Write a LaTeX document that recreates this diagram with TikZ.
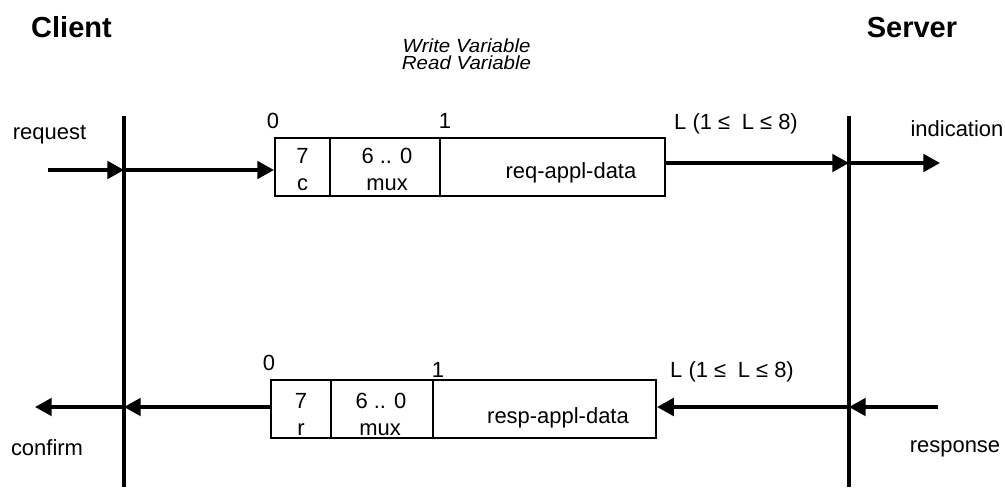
\documentclass[tikz,border=0pt]{standalone}
\usepackage{fontspec}
\setmainfont{Liberation Sans}
\newfontfamily\svcfont[FakeStretch=1.08]{Liberation Sans}
\usepackage{tikz}
\usetikzlibrary{arrows.meta}
\newcommand\pxu{0.02cm}

\begin{document}
\begin{tikzpicture}[x=0.02cm, y=-0.02cm,
  txt/.style={font=\fontsize{12.5}{15}\selectfont, inner sep=0pt, anchor=base},
  head/.style={font=\fontsize{16.5}{20}\selectfont\bfseries, inner sep=0pt, anchor=base},
  svc/.style={font=\svcfont\fontsize{10.8}{9.6}\selectfont\itshape, inner sep=0pt, align=center},
  cell/.style={draw, line width=1.2pt, inner sep=0pt, minimum height=58*\pxu},
  life/.style={line width=1.9pt},
  msg/.style={line width=1.9pt, -{Triangle[length=9.5pt,width=10pt]}}]
\useasboundingbox (0,0) rectangle (1005,488);

\node[head] (client) at (71.5,37) {Client};
\node[head] (server) at (912,37) {Server};
\node[svc] (services) at (466.5,54.5) {Write Variable\\Read Variable};

% lifelines
\coordinate (cltop) at (124,116);
\coordinate (clbot) at (124,487);
\coordinate (svtop) at (849,116);
\coordinate (svbot) at (849,487);
\draw[life] (cltop) -- (clbot);
\draw[life] (svtop) -- (svbot);

% request frame
\node[cell, minimum width=55*\pxu] (rqc) at (302.5,167) {};
\node[cell, minimum width=110*\pxu] (rqmux) at (385,167) {};
\node[cell, minimum width=225*\pxu] (rqdata) at (552.5,167) {};
\node[txt] (rqbit) at (302.5,163) {7};
\node[txt] (rqflag) at (302.5,190) {c};
\node[txt] (rqrange) at (387,163) {6 .. 0};
\node[txt] (rqmuxt) at (387,190) {mux};
\node[txt] (rqdatat) at (571,178) {req-appl-data};
\node[txt] (rqzero) at (273,128) {0};
\node[txt] (rqone) at (445,128) {1};
\node[txt] (rqlen) at (736,129) {L (1 ≤\hspace{0.25em} L ≤ 8)};

% response frame
\node[cell, minimum width=60*\pxu] (rsc) at (301,409) {};
\node[cell, minimum width=102*\pxu] (rsmux) at (382,409) {};
\node[cell, minimum width=223*\pxu] (rsdata) at (544.5,409) {};
\node[txt] (rsbit) at (301,408) {7};
\node[txt] (rsflag) at (301,435) {r};
\node[txt] (rsrange) at (381,408) {6 .. 0};
\node[txt] (rsmuxt) at (380,435) {mux};
\node[txt] (rsdatat) at (558,423) {resp-appl-data};
\node[txt] (rszero) at (269,370) {0};
\node[txt] (rsone) at (438,377) {1};
\node[txt] (rslen) at (732,377) {L (1 ≤\hspace{0.25em} L ≤ 8)};

% primitives
\node[txt] (request) at (49.5,139) {request};
\node[txt] (indication) at (957,136) {indication};
\node[txt] (confirm) at (47,455) {confirm};
\node[txt] (response) at (955,452) {response};

\coordinate (reqin) at (48,170);
\coordinate (indout) at (940,163);
\coordinate (cnfout) at (35,407);
\coordinate (rspin) at (938,407);

\draw[msg] (reqin) -- (reqin -| cltop);
\draw[msg] (reqin -| cltop) -- (reqin -| rqc.west);
\draw[msg] (indout -| rqdata.east) -- (indout -| svtop);
\draw[msg] (indout -| svtop) -- (indout);
\draw[msg] (rspin) -- (rspin -| svtop);
\draw[msg] (rspin -| svtop) -- (rspin -| rsdata.east);
\draw[msg] (rspin -| rsc.west) -- (rspin -| cltop);
\draw[msg] (rspin -| cltop) -- (cnfout);
\end{tikzpicture}
\end{document}
